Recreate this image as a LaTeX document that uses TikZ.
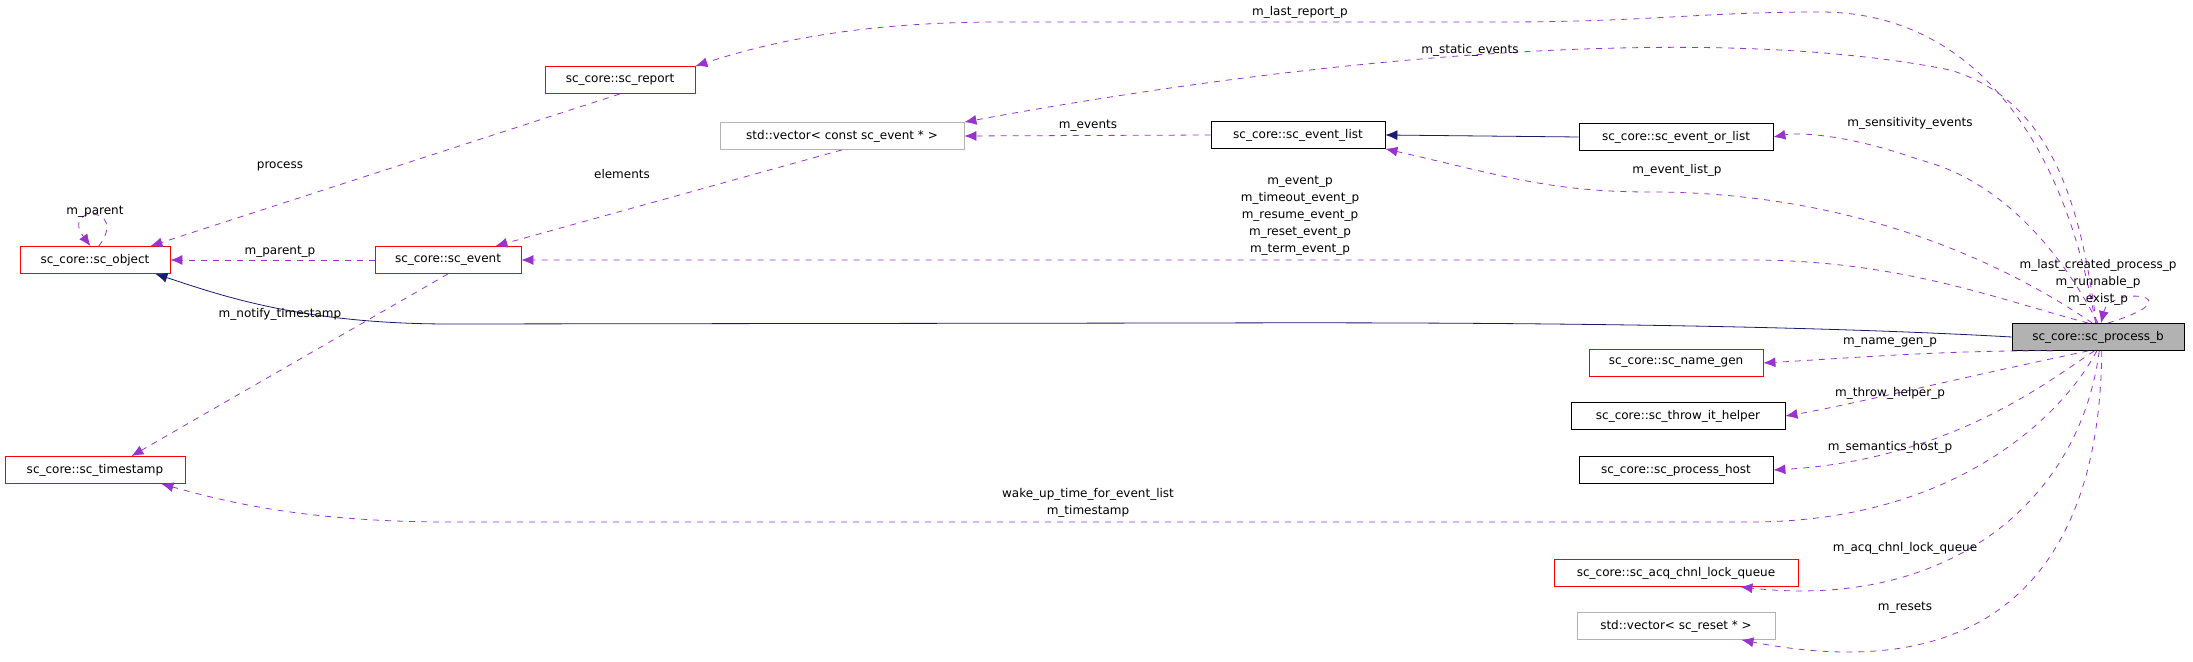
\documentclass[tikz,border=0pt]{standalone}
\usepackage{fontspec}
\setmainfont{DejaVu Sans}
\usetikzlibrary{positioning,arrows.meta}
\definecolor{edgec}{HTML}{9A32CD}
\definecolor{inhc}{HTML}{191970}
\tikzset{
  cls/.style={draw=red, fill=white, inner sep=0pt, minimum height=13.5, font=\fontsize{6}{7}\selectfont},
  okcls/.style={cls, draw=black},
  grcls/.style={cls, draw=gray!60},
  mem/.style={draw=edgec, dashed, -{Latex[length=6,width=5]}},
  inh/.style={draw=inhc, -{Latex[length=6,width=5]}},
  lbl/.style={font=\fontsize{6}{8.5}\selectfont, align=center, inner sep=0pt}
}
\begin{document}
\begin{tikzpicture}[x=0.5pt,y=-0.5pt]
\useasboundingbox (0,0) rectangle (2193,662);
% classes
\node[cls, minimum width=75] (obj) at (95,260) {sc\_core::sc\_object};
\node[cls, minimum width=75] (rep) at (620,80) {sc\_core::sc\_report};
\node[grcls, minimum width=122] (vc) at (842,136) {std::vector< const sc\_event * >};
\node[okcls, minimum width=87] (el) at (1298,135) {sc\_core::sc\_event\_list};
\node[okcls, minimum width=97] (ol) at (1676,137) {sc\_core::sc\_event\_or\_list};
\node[cls, minimum width=73] (sev) at (448,260) {sc\_core::sc\_event};
\node[okcls, fill=gray!60, minimum width=86] (pb) at (2098,337) {sc\_core::sc\_process\_b};
\node[cls, minimum width=87] (ng) at (1676,363) {sc\_core::sc\_name\_gen};
\node[okcls, minimum width=107] (th) at (1678,416) {sc\_core::sc\_throw\_it\_helper};
\node[okcls, minimum width=97] (ph) at (1676,470) {sc\_core::sc\_process\_host};
\node[cls, minimum width=90] (ts) at (95,470) {sc\_core::sc\_timestamp};
\node[cls, minimum width=122] (acq) at (1676,573) {sc\_core::sc\_acq\_chnl\_lock\_queue};
\node[grcls, minimum width=99] (vr) at (1676,626) {std::vector< sc\_reset * >};
% members of sc_process_b
\draw[mem] (pb.100) .. controls (2060,120) and (1960,12) .. (1820,12) .. controls (1700,12) and (1650,22) .. (1500,22) -- (1000,22) .. controls (850,22) and (760,45) .. (rep.north east);
\node[lbl] (l1) at (1300,12) {m\_last\_report\_p};
\draw[mem] (pb.97) .. controls (2080,200) and (2050,100) .. (1950,70) .. controls (1700,20) and (1300,60) .. (vc.north east);
\node[lbl] (l2) at (1470,50) {m\_static\_events};
\draw[mem] (pb.north) .. controls (2060,250) and (2000,180) .. (1920,160) .. controls (1850,135) and (1800,132) .. (ol.east);
\node[lbl] (l3) at (1910,123) {m\_sensitivity\_events};
\draw[mem] (pb.112) .. controls (2000,260) and (1850,192) .. (1650,192) .. controls (1550,192) and (1500,175) .. (el.south east);
\node[lbl] (l4) at (1677,170) {m\_event\_list\_p};
\draw[mem] (pb.125) .. controls (2000,300) and (1900,260) .. (1750,260) -- (sev.east);
\node[lbl] (l5) at (1300,216) {m\_event\_p\\m\_timeout\_event\_p\\m\_resume\_event\_p\\m\_reset\_event\_p\\m\_term\_event\_p};
\draw[inh] (pb.west) .. controls (1800,325) and (1500,322) .. (1200,323) -- (450,324) .. controls (300,324) and (220,295) .. ([xshift=-7.5]obj.south east);
\draw[mem] (pb.55) .. controls (2200,295) and (2110,285) .. (pb.78);
\node[lbl] (l6) at (2098,282) {m\_last\_created\_process\_p\\m\_runnable\_p\\m\_exist\_p};
\draw[mem] (pb.197) .. controls (1950,350) and (1850,358) .. (ng.east);
\node[lbl] (l7) at (1890,343) {m\_name\_gen\_p};
\draw[mem] (pb.235) .. controls (1950,380) and (1850,405) .. (th.east);
\node[lbl] (l8) at (1890,393) {m\_throw\_helper\_p};
\draw[mem] (pb.255) .. controls (2050,380) and (1950,460) .. (ph.east);
\node[lbl] (l9) at (1890,447) {m\_semantics\_host\_p};
\draw[mem] (pb.265) .. controls (2060,420) and (1950,522) .. (1750,522) -- (450,522) .. controls (300,522) and (220,500) .. ([xshift=-12]ts.south east);
\node[lbl] (l10) at (1088,503) {wake\_up\_time\_for\_event\_list\\m\_timestamp};
\draw[mem] (pb.275) .. controls (2080,500) and (1950,610) .. ([xshift=-29]acq.south east);
\node[lbl] (l11) at (1905,548) {m\_acq\_chnl\_lock\_queue};
\draw[mem] (pb.285) .. controls (2100,560) and (2000,690) .. ([xshift=-17]vr.south east);
\node[lbl] (l12) at (1905,608) {m\_resets};
% other relations
\draw[mem] (el.west) -- (vc.east);
\node[lbl] (l13) at (1088,126) {m\_events};
\draw[inh] (ol.west) -- (el.east);
\draw[mem] (rep.south) -- ([xshift=-10]obj.north east);
\node[lbl] (l14) at (280,166) {process};
\draw[mem] (sev.west) -- (obj.east);
\node[lbl] (l15) at (280,252) {m\_parent\_p};
\draw[mem] (obj.75) .. controls (130,205) and (60,205) .. (obj.108);
\node[lbl] (l16) at (95,212) {m\_parent};
\draw[mem] (vc.south) -- ([xshift=-13]sev.north east);
\node[lbl] (l17) at (622,174) {elements};
\draw[mem] (sev.south) -- ([xshift=-27]ts.north east);
\node[lbl] (l18) at (280,314) {m\_notify\_timestamp};
\end{tikzpicture}
\end{document}
